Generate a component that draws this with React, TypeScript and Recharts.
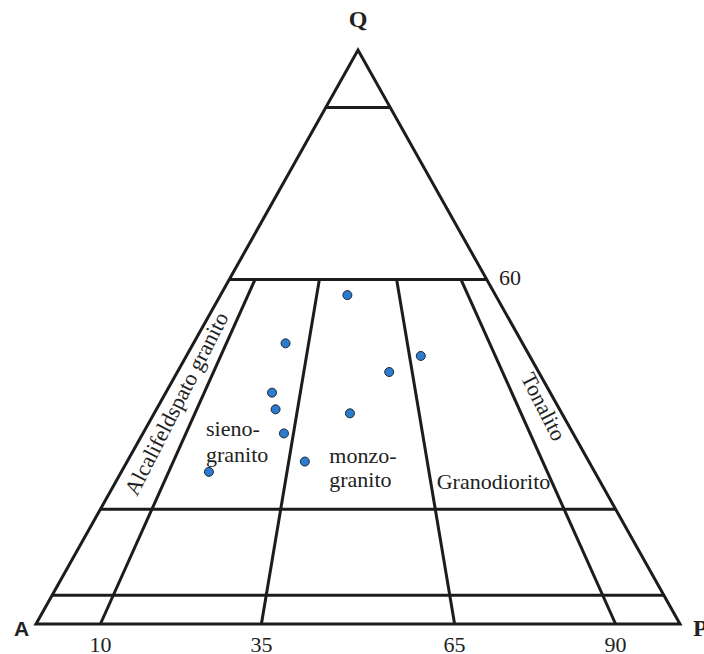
import { ScatterChart, Scatter, XAxis, YAxis, ReferenceLine, ReferenceDot, Label } from "recharts"

// QAP samples, % (cuarzo, feldespato alcalino, plagioclasa)
const sampleQ = [57.3, 48.9, 46.7, 43.9, 40.3, 37.4, 36.7, 33.2, 28.3, 26.5]
const sampleA = [23.0, 36.8, 16.9, 23.2, 43.2, 44.1, 32.9, 44.9, 44.1, 59.9]
const sampleP = [19.7, 14.3, 36.4, 32.9, 16.5, 18.5, 30.4, 21.9, 27.6, 13.6]

// field boundaries
const qLevels = [90, 60, 20, 5]
const plagioRatios = [10, 35, 65, 90] // 100 * P / (A + P)
const ratioTop = 60 // ratio lines stop at Q = 60

const apexNames = ["Q", "A", "P"]
const fieldNames = ["Alcalifeldspato granito", "sieno-", "granito", "monzo-", "granito", "Granodiorito", "Tonalito"]
const qTickLabel = "60"

const ink = "#1c1c1c"
const serif = "'Liberation Serif', 'Times New Roman', serif"

function toXY(q: number, a: number, p: number) {
  const s = q + a + p
  return { x: ((p + q / 2) / s) * 100, y: (q / s) * 100 }
}

const samples = sampleQ.map((q, i) => toXY(q, sampleA[i], sampleP[i]))
const outline = [toXY(0, 100, 0), toXY(0, 0, 100), toXY(100, 0, 0), toXY(0, 100, 0), toXY(0, 0, 100)]

const qSegments = qLevels.map((q) => [toXY(q, 100 - q, 0), toXY(q, 0, 100 - q)])
const ratioSegments = plagioRatios.map((r) => [
  toXY(0, 100 - r, r),
  toXY(ratioTop, (100 - ratioTop) * (1 - r / 100), ((100 - ratioTop) * r) / 100),
])

type TextSpec = {
  text: string
  x: number
  y: number
  anchor?: "start" | "middle" | "end"
  angle?: number
  size?: number
  weight?: string
  family?: string
}

const textSpecs: TextSpec[] = [
  { text: apexNames[0], x: 50, y: 104.0, anchor: "middle", size: 24, weight: "bold" },
  { text: apexNames[1], x: -2.25, y: -2.09, anchor: "middle", size: 21, weight: "bold", family: "'Liberation Sans', Arial, sans-serif" },
  { text: apexNames[2], x: 102.0, y: -2.09, anchor: "start", size: 24, weight: "bold" },
  { text: qTickLabel, x: 71.9, y: 59.06, anchor: "start" },
  { text: fieldNames[0], x: 22.83, y: 37.8, anchor: "middle", angle: -63 },
  { text: fieldNames[1], x: 26.4, y: 32.75, anchor: "start" },
  { text: fieldNames[2], x: 26.4, y: 28.28, anchor: "start" },
  { text: fieldNames[3], x: 45.54, y: 28.1, anchor: "start" },
  { text: fieldNames[4], x: 45.54, y: 23.92, anchor: "start" },
  { text: fieldNames[5], x: 62.22, y: 23.47, anchor: "start" },
  { text: fieldNames[6], x: 77.8, y: 37.28, anchor: "middle", angle: 63 },
]

function textContent(t: TextSpec) {
  return (props: any) => {
    const vb = props.viewBox || { x: 0, y: 0, width: 0, height: 0 }
    const cx = vb.x + (vb.width || 0) / 2
    const cy = vb.y + (vb.height || 0) / 2
    return (
      <text
        x={cx}
        y={cy}
        textAnchor={t.anchor || "start"}
        fontFamily={t.family || serif}
        fontSize={t.size || 22}
        fontWeight={t.weight || "normal"}
        fill="#222"
        transform={t.angle ? `rotate(${t.angle} ${cx} ${cy})` : undefined}
      >
        {t.text}
      </text>
    )
  }
}

export default function App() {
  return (
    <div style={{ position: "absolute", left: 0, top: 0, background: "#fff" }}>
      <ScatterChart width={704} height={654} margin={{ top: 50, right: 24, bottom: 0, left: 36 }}>
        <XAxis
          type="number"
          dataKey="x"
          domain={[0, 100]}
          ticks={plagioRatios}
          axisLine={false}
          tickLine={false}
          tickSize={0}
          tickMargin={12}
          height={30}
          interval={0}
          tick={{ fontSize: 22, fill: "#222", fontFamily: serif }}
        />
        <YAxis type="number" dataKey="y" domain={[0, 100]} hide />

        {qSegments.map((seg, i) => (
          <ReferenceLine
            key={"q" + i}
            segment={seg}
            stroke={ink}
            strokeWidth={3}
            ifOverflow="visible"
          />
        ))}
        {ratioSegments.map((seg, i) => (
          <ReferenceLine
            key={"r" + i}
            segment={seg}
            stroke={ink}
            strokeWidth={3}
            ifOverflow="visible"
          />
        ))}

        <Scatter
          data={outline}
          isAnimationActive={false}
          line={{ stroke: ink, strokeWidth: 3 }}
          lineType="joint"
          shape={() => <g />}
        />

        <Scatter
          data={samples}
          isAnimationActive={false}
          shape={(p: any) => (
            <circle cx={p.cx} cy={p.cy} r={4.5} fill="#2b7bcf" stroke="#1b2733" strokeWidth={1} />
          )}
        />

        {textSpecs.map((t, i) => (
          <ReferenceDot key={"t" + i} x={t.x} y={t.y} r={0} fill="none" stroke="none" ifOverflow="visible">
            <Label content={textContent(t)} />
          </ReferenceDot>
        ))}
      </ScatterChart>
    </div>
  )
}
